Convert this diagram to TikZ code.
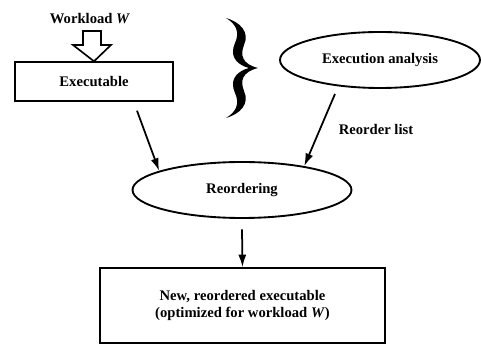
\documentclass[tikz,border=0pt]{standalone}
\usepackage{fontspec}
\setmainfont{Liberation Serif}
\usetikzlibrary{arrows.meta,shapes.geometric}

\tikzset{
	lbl/.style={font=\fontsize{12.5}{14}\selectfont\bfseries, inner sep=1pt},
	boxnode/.style={draw, line width=1.2pt, lbl},
	ovalnode/.style={draw, ellipse, line width=1.6pt, minimum height=16.8mm, lbl},
	flow/.style={->, line width=1.5pt},
}

\begin{document}
\begin{tikzpicture}[x=0.3mm, y=-0.3mm, >={Latex[length=3.8mm, width=2.4mm]}]
	\useasboundingbox (0,0) rectangle (481,344);
	% input side
	\node[lbl] (wl) at (90,19) {Workload \textit{W}};
	\node[boxnode, minimum width=47.4mm, minimum height=11.7mm] (exe) at (94,81.5) {Executable};
	\draw[fill=white, line width=1.4pt, line join=miter] (83,31) -- (101,31) -- (101,45) -- (111,45) -- (exe.north) -- (73,45) -- (83,45) -- cycle;
	% brace
	\fill (226,18) .. controls (240,22) and (250,32) .. (244,45) .. controls (240,55) and (242,64) .. (258,68)
		.. controls (242,72) and (240,81) .. (244,91) .. controls (250,104) and (240,114) .. (226,118)
		.. controls (236,112) and (240,104) .. (235,93) .. controls (230,82) and (234,72) .. (249,68)
		.. controls (234,64) and (230,54) .. (235,43) .. controls (240,32) and (236,24) .. (226,18) -- cycle;
	\node[ovalnode, minimum width=60mm] (ana) at (380,60) {Execution analysis};
	% reordering
	\node[ovalnode, minimum width=65.7mm] (ro) at (242,190) {Reordering};
	\draw[flow] ([shift={(43,9)}]exe.south) -- (ro.167);
	\draw[flow] ([shift={(-45,5)}]ana.south) -- (ro.21);
	\node[lbl] (rl) at (376,129) {Reorder list};
	% output
	\node[boxnode, minimum width=85.5mm, minimum height=22.5mm, align=center] (out) at (242.5,305.5)
		{New, reordered executable\\(optimized for workload \textit{W})};
	\draw[flow] ([yshift=-9]ro.south) -- (out.north);
\end{tikzpicture}
\end{document}
